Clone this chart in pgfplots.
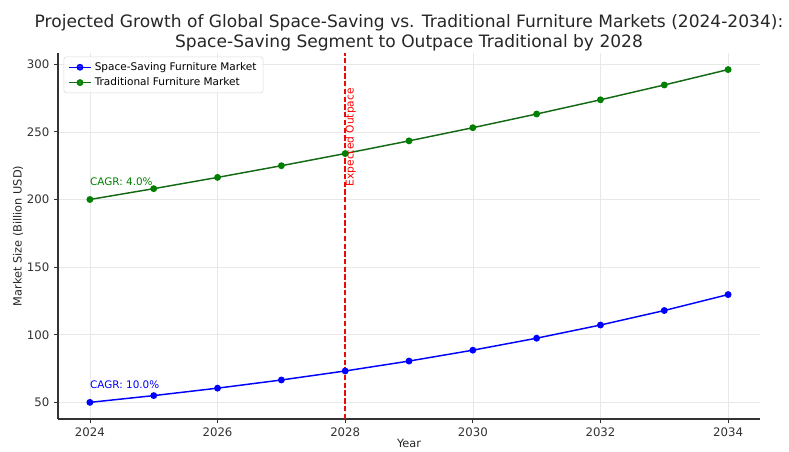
\documentclass[border=0pt]{standalone}
\usepackage{fontspec}
\setmainfont{DejaVu Sans}
\usepackage{pgfplots}
\pgfplotsset{compat=1.18}
\definecolor{mplgreen}{RGB}{0,128,0}
\definecolor{darkgreenline}{RGB}{20,105,20}
\definecolor{vred}{RGB}{235,10,10}
\begin{document}
\begin{tikzpicture}
\useasboundingbox (-43.5pt,-24pt) rectangle (548.25pt,314.25pt);
\begin{axis}[
  scale only axis, width=526.5pt, height=274.5pt,
  xmin=2023.5, xmax=2034.5, ymin=37.7, ymax=308.3,
  axis x line*=bottom, axis y line*=left,
  axis line style={-, black!80, line width=0.8pt},
  xtick={2024,2026,...,2034}, ytick={50,100,...,300},
  /pgf/number format/assume math mode=true,
  x tick label style={/pgf/number format/1000 sep={}},
  tick label style={font=\fontsize{8.8}{10}\selectfont, text=black!80},
  tick align=outside, major tick length=3pt, tick style={black!80, line width=0.6pt},
  grid=major, grid style={gray!18, line width=0.5pt},
  xlabel={Year}, ylabel={Market Size (Billion USD)},
  label style={font=\fontsize{8.5}{10}\selectfont, text=black!85},
  xlabel style={at={(axis description cs:0.5,0)}, anchor=north, inner sep=0pt, yshift=-15pt},
  ylabel style={at={(axis description cs:-0.057,0.5)}, anchor=center, rotate=0},
  title={Projected Growth of Global Space-Saving vs. Traditional Furniture Markets (2024-2034):\\Space-Saving Segment to Outpace Traditional by 2028},
  title style={align=center, font=\fontsize{12.8}{15}\selectfont, text=black!85, at={(axis description cs:0.5,1)}, anchor=south, inner sep=0pt, yshift=-5pt},
  legend style={at={(0.008,0.99)}, anchor=north west, font=\fontsize{7.9}{9.5}\selectfont, draw=gray!30, rounded corners=2pt, fill=white, fill opacity=0.8, text opacity=1},
  legend cell align=left,
]
\addplot[color=blue, line width=1.1pt, mark=*, mark size=2pt, mark options={fill=blue, draw=blue}] coordinates {
 (2024,50) (2025,55) (2026,60.5) (2027,66.55) (2028,73.21) (2029,80.53)
 (2030,88.58) (2031,97.44) (2032,107.18) (2033,117.9) (2034,129.69)};
\addlegendentry{Space-Saving Furniture Market}
\addplot[color=darkgreenline, line width=1.1pt, mark=*, mark size=2pt, mark options={fill=mplgreen, draw=mplgreen}] coordinates {
 (2024,200) (2025,208) (2026,216.32) (2027,224.97) (2028,233.97) (2029,243.33)
 (2030,253.06) (2031,263.19) (2032,273.71) (2033,284.66) (2034,296.05)};
\addlegendentry{Traditional Furniture Market}
\draw[draw=vred, dash pattern=on 4pt off 1.8pt, line width=1.05pt] (axis cs:2028,37.7) -- (axis cs:2028,308.3);
\node[rotate=90, anchor=north west, inner sep=0pt, text=red, font=\fontsize{8}{9}\selectfont] at (axis cs:2028,209.5) {Expected Outpace};
\node[anchor=base west, inner sep=0pt, text=mplgreen, font=\fontsize{7.8}{9}\selectfont] at (axis cs:2024,210) {CAGR: 4.0\%};
\node[anchor=base west, inner sep=0pt, text=blue, font=\fontsize{7.8}{9}\selectfont] at (axis cs:2024,60) {CAGR: 10.0\%};
\end{axis}
\end{tikzpicture}
\end{document}
